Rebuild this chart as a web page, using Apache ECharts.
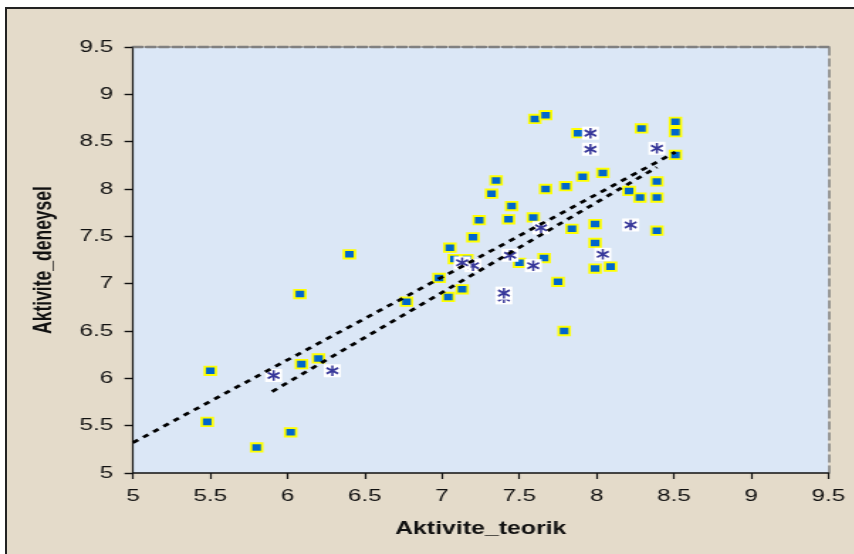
<!DOCTYPE html>
<html>
<head>
<meta charset="utf-8">
<script src="https://cdn.jsdelivr.net/npm/echarts@6.0.0/dist/echarts.min.js"></script>
<style>
  html, body { margin: 0; padding: 0; background: #fff; overflow: hidden; }
  #bg {
    position: absolute; left: 5px; top: 7px; width: 860px; height: 560px;
    border-top: 2px solid #222; border-left: 2px solid #222;
    background: #e4dbca;
  }
  /* the original screenshot is stretched horizontally, so the chart is drawn
     narrow and scaled in x */
  #chart {
    position: absolute; left: 0; top: 0; height: 554px;
    transform-origin: 0 0;
  }
</style>
</head>
<body>
<div id="bg"></div>
<div id="chart"></div>
<script>
const STRETCH = 1.42;

// squares (training set)
const sqX = [5.48, 5.80, 6.02, 5.50, 6.08, 6.09, 6.20, 6.40, 6.77, 6.98,
  7.04, 7.13, 7.05, 7.08, 7.16, 7.20, 7.24, 7.35, 7.32, 7.45,
  7.43, 7.59, 7.50, 7.66, 7.75, 7.67, 7.80, 7.91, 7.84, 7.60,
  7.67, 7.88, 8.29, 8.51, 8.51, 8.51, 8.04, 8.39, 8.21, 8.28,
  8.39, 7.99, 8.39, 7.99, 7.99, 8.09, 7.79];
const sqY = [5.54, 5.27, 5.43, 6.08, 6.89, 6.15, 6.21, 7.31, 6.81, 7.06,
  6.86, 6.94, 7.38, 7.26, 7.26, 7.49, 7.67, 8.09, 7.95, 7.82,
  7.68, 7.70, 7.22, 7.27, 7.02, 8.00, 8.03, 8.13, 7.58, 8.74,
  8.78, 8.59, 8.64, 8.71, 8.60, 8.36, 8.17, 8.08, 7.98, 7.91,
  7.91, 7.63, 7.56, 7.43, 7.16, 7.18, 6.50];

// asterisks (test set); the "back" ones are partly hidden by others
const astBackX = [7.20, 7.40];
const astBackY = [7.19, 6.85];
const astX = [5.91, 6.29, 7.13, 7.44, 7.59, 7.64, 7.40, 7.96, 7.96, 8.39, 8.22, 8.04];
const astY = [6.03, 6.08, 7.22, 7.30, 7.19, 7.59, 6.90, 8.59, 8.42, 8.43, 7.62, 7.31];

// dotted trend lines (end points)
const trendAX = [5.0, 8.51];
const trendAY = [5.32, 8.39];
const trendBX = [5.9, 8.39];
const trendBY = [5.86, 8.23];

const axisMin = 5, axisMax = 9.5, axisStep = 0.5;

const zip = (xs, ys) => xs.map((x, i) => [x, ys[i]]);

const el = document.getElementById("chart");
el.style.width = (854 / STRETCH) + "px";
el.style.transform = "scaleX(" + STRETCH + ")";

const chart = echarts.init(el, null, { renderer: "canvas" });

const font = "Arial, sans-serif";
const asterisk = "path://M5 0 L5 10 M0.6 2.2 L9.4 7.8 M0.6 7.8 L9.4 2.2";

const boxSeries = (data, z) => ({
  type: "scatter",
  data: data,
  symbol: "rect",
  symbolSize: [12, 13],
  itemStyle: { color: "#ffffff", opacity: 1 },
  z: z,
  silent: true,
});
const starSeries = (data, z) => ({
  type: "scatter",
  data: data,
  symbol: asterisk,
  symbolSize: [8.2, 10.5],
  itemStyle: { color: "none", borderColor: "#38389a", borderWidth: 1.7, opacity: 1 },
  z: z,
  silent: true,
});
const trendSeries = (xs, ys) => ({
  type: "line",
  data: zip(xs, ys),
  symbol: "none",
  lineStyle: { color: "#000", width: 2.8, type: [4.5, 4.5] },
  z: 10,
  silent: true,
});

const tickLabel = { color: "#111", fontFamily: font, fontSize: 17 };
const nameStyle = { color: "#111", fontFamily: font, fontSize: 17.5, fontWeight: "bold" };

chart.setOption({
  animation: false,
  backgroundColor: "transparent",
  grid: {
    left: 133 / STRETCH, right: 25 / STRETCH, top: 47, bottom: 81,
    show: true, backgroundColor: "#dbe7f6", borderWidth: 0,
  },
  xAxis: [
    {
      type: "value", min: axisMin, max: axisMax, interval: axisStep,
      name: "Aktivite_teorik", nameLocation: "middle", nameGap: 47,
      nameTextStyle: nameStyle,
      axisLine: { onZero: false, lineStyle: { color: "#111", width: 1.5 } },
      axisTick: { length: 6, lineStyle: { color: "#111", width: 1.2 } },
      axisLabel: Object.assign({ margin: 15 }, tickLabel),
      splitLine: { show: false },
    },
    {
      type: "value", min: axisMin, max: axisMax, position: "top",
      axisLine: { onZero: false, lineStyle: { color: "#808080", width: 2.4, type: [6.5, 2.8] } },
      axisTick: { show: false }, axisLabel: { show: false }, splitLine: { show: false },
    },
  ],
  yAxis: [
    {
      type: "value", min: axisMin, max: axisMax, interval: axisStep,
      name: "Aktivite_deneysel", nameLocation: "middle", nameGap: 53,
      nameTextStyle: nameStyle,
      axisLine: { show: true, onZero: false, lineStyle: { color: "#111", width: 1.2 } },
      axisTick: { show: true, length: 6, lineStyle: { color: "#111", width: 1.4 } },
      axisLabel: Object.assign({ margin: 14 }, tickLabel),
      splitLine: { show: false },
    },
    {
      type: "value", min: axisMin, max: axisMax, position: "right",
      axisLine: { show: true, onZero: false, lineStyle: { color: "#808080", width: 1.5, type: [7, 4] } },
      axisTick: { show: false }, axisLabel: { show: false }, splitLine: { show: false },
    },
  ],
  series: [
    {
      type: "scatter",
      data: zip(sqX, sqY),
      symbol: "rect",
      symbolSize: [7.8, 8.4],
      itemStyle: { color: "#0066cc", borderColor: "#ffff00", borderWidth: 1.8, opacity: 1 },
      z: 2,
      silent: true,
    },
    boxSeries(zip(astBackX, astBackY), 3),
    starSeries(zip(astBackX, astBackY), 4),
    boxSeries(zip(astX, astY), 5),
    starSeries(zip(astX, astY), 6),
    trendSeries(trendAX, trendAY),
    trendSeries(trendBX, trendBY),
  ],
});
</script>
</body>
</html>
